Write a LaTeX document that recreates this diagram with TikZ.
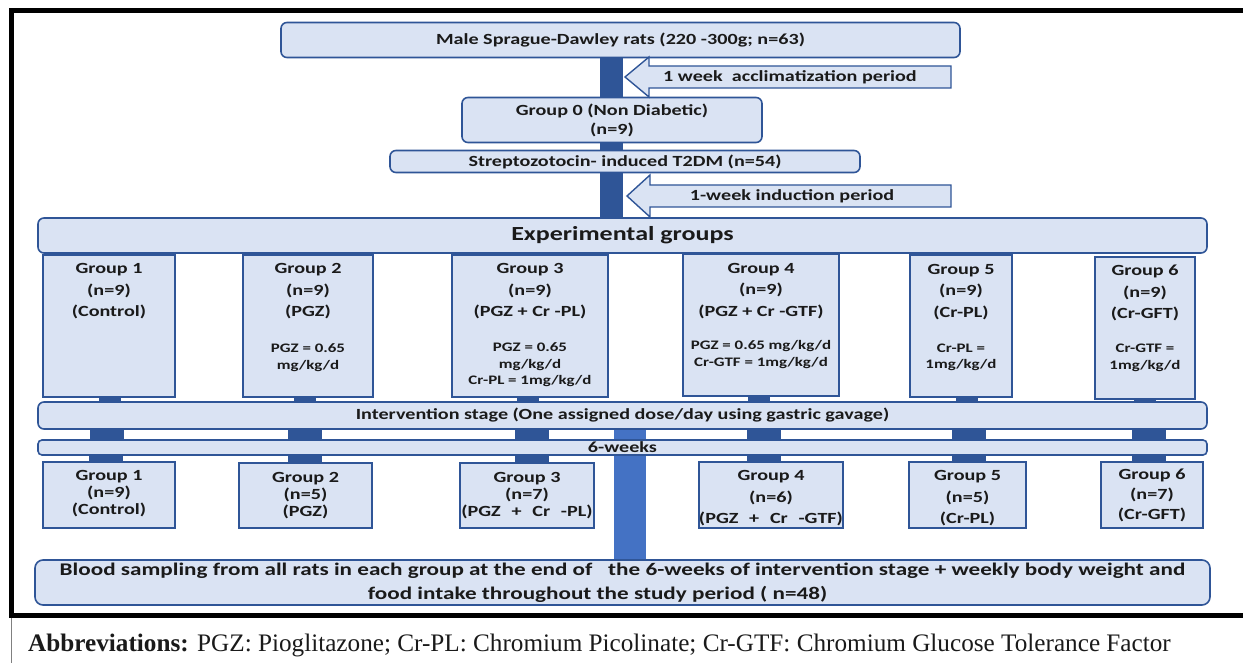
\documentclass[tikz,border=0pt]{standalone}
\usepackage{fontspec}
\setmainfont{Carlito}[FakeStretch=1.3]
\newfontfamily\abbrfont{Liberation Serif}
\usetikzlibrary{calc,backgrounds}
\definecolor{bd}{HTML}{2F5597}
\definecolor{fl}{HTML}{DAE3F3}
\definecolor{bb}{HTML}{4472C4}
\definecolor{tx}{HTML}{1A1A1A}
\newcommand{\wsp}{\ \hspace{0.4em}}
\begin{document}
\begin{tikzpicture}[x=1pt,y=-1pt,
  rbox/.style={draw=bd, fill=fl, line width=1.6pt, rounded corners=6pt, inner sep=0pt, align=center, text=tx, font=\bfseries\fontsize{15.5}{19}\selectfont},
  gbox/.style={draw=bd, fill=fl, line width=1.6pt, inner sep=0pt},
  htxt/.style={align=center, inner sep=0pt, text=tx, font=\bfseries\fontsize{15.5}{21.5}\selectfont},
  dtxt/.style={align=center, inner sep=0pt, text=tx, font=\bfseries\fontsize{13}{16.5}\selectfont},
  btxt/.style={align=center, inner sep=0pt, text=tx, font=\bfseries\fontsize{15.5}{17}\selectfont},
  atxt/.style={inner sep=0pt, text=tx, font=\bfseries\fontsize{15.5}{19}\selectfont},
  arr/.style={draw=bd, fill=fl, line width=1.4pt, line join=miter},
  bar/.style={fill=bd},
]
\useasboundingbox (0,0) rectangle (1243,663);

% frame
\draw[line width=5pt] (1243,10.5) -- (11,10.5) -- (11,615.5) -- (1243,615.5);
\draw[line width=1pt, gray] (11,618) -- (11,663);

% top part
\node[rbox, minimum width=679pt, minimum height=35pt] (top) at (620.5,40) {Male Sprague-Dawley rats (220 -300g; n=63)};
\node[rbox, minimum width=300pt, minimum height=45pt] (g0) at (612,120) {Group 0 (Non Diabetic)\\(n=9)};
\node[rbox, minimum width=470pt, minimum height=22pt] (stz) at (625,161.5) {Streptozotocin- induced T2DM (n=54)};
\node[rbox, minimum width=1169pt, minimum height=35pt, font=\bfseries\fontsize{20}{24}\selectfont] (exp) at (622.5,235.5) {Experimental groups};

\path[arr] (625,77) -- (649,57) -- (649,66) -- (951,66) -- (951,88) -- (649,88) -- (649,97) -- cycle;
\node[atxt] (a1) at (790,77) {1 week\ \ acclimatization period};
\path[arr] (627,196) -- (650,175) -- (650,185) -- (951,185) -- (951,207) -- (650,207) -- (650,217) -- cycle;
\node[atxt] (a2) at (792,196) {1-week induction period};

% top row of groups
\node[gbox, minimum width=132pt, minimum height=142pt] (t1) at (109,326) {};
\node[gbox, minimum width=130pt, minimum height=142pt] (t2) at (308,326) {};
\node[gbox, minimum width=156pt, minimum height=142pt] (t3) at (530,326) {};
\node[gbox, minimum width=156pt, minimum height=142pt] (t4) at (761,325) {};
\node[gbox, minimum width=102pt, minimum height=142pt] (t5) at (961,326) {};
\node[gbox, minimum width=100pt, minimum height=142pt] (t6) at (1145,328) {};

\node[htxt] (t1h) at (109,291.5) {Group 1\\(n=9)\\(Control)};
\node[htxt] (t2h) at (308,291.5) {Group 2\\(n=9)\\(PGZ)};
\node[htxt] (t3h) at (530,291.5) {Group 3\\(n=9)\\(PGZ + Cr -PL)};
\node[htxt] (t4h) at (761,291) {Group 4\\(n=9)\\(PGZ + Cr -GTF)};
\node[htxt] (t5h) at (961,292) {Group 5\\(n=9)\\(Cr-PL)};
\node[htxt] (t6h) at (1145,293) {Group 6\\(n=9)\\(Cr-GFT)};

\node[dtxt] (t2d) at (308,357.5) {PGZ = 0.65\\mg/kg/d};
\node[dtxt] (t3d) at (530,365) {PGZ = 0.65\\mg/kg/d\\Cr-PL = 1mg/kg/d};
\node[dtxt] (t4d) at (761,354.5) {PGZ = 0.65 mg/kg/d\\Cr-GTF = 1mg/kg/d};
\node[dtxt] (t5d) at (961,357.5) {Cr-PL =\\1mg/kg/d};
\node[dtxt] (t6d) at (1145,358) {Cr-GTF =\\1mg/kg/d};

% stages
\node[rbox, minimum width=1169pt, minimum height=27pt] (iv) at (622.5,415.5) {Intervention stage (One assigned dose/day using gastric gavage)};
\node[rbox, rounded corners=4pt, minimum width=1169pt, minimum height=15pt] (sw) at (622.5,447.5) {6-weeks};

% bottom row of groups
\node[gbox, minimum width=132pt, minimum height=66pt] (b1) at (109,495) {};
\node[gbox, minimum width=133pt, minimum height=65pt] (b2) at (305.5,495.5) {};
\node[gbox, minimum width=134pt, minimum height=65pt] (b3) at (527,495.5) {};
\node[gbox, minimum width=144pt, minimum height=66pt] (b4) at (771,495) {};
\node[gbox, minimum width=117pt, minimum height=66pt] (b5) at (967.5,495) {};
\node[gbox, minimum width=102pt, minimum height=66pt] (b6) at (1152,495) {};

\node[btxt] (b1t) at (109,493.5) {Group 1\\(n=9)\\(Control)};
\node[btxt] (b2t) at (305.5,496) {Group 2\\(n=5)\\(PGZ)};
\node[btxt] (b3t) at (527,496) {Group 3\\(n=7)\\(PGZ\wsp+\wsp Cr\wsp -PL)};
\node[btxt, font=\bfseries\fontsize{15.5}{21.5}\selectfont] (b4t) at (771,498.5) {Group 4\\(n=6)\\(PGZ\wsp+\wsp Cr\wsp -GTF)};
\node[btxt, font=\bfseries\fontsize{15.5}{21.5}\selectfont] (b5t) at (967.5,498.5) {Group 5\\(n=5)\\(Cr-PL)};
\node[btxt, font=\bfseries\fontsize{15.5}{20}\selectfont] (b6t) at (1152,495) {Group 6\\(n=7)\\(Cr-GFT)};

\node[rbox, rounded corners=8pt, minimum width=1175pt, minimum height=45pt, font=\bfseries\fontsize{17.8}{24}\selectfont] (blood) at (622.5,582.5) {Blood sampling from all rats in each group at the end of\ \ \ the 6-weeks of intervention stage + weekly body weight and\\food intake throughout the study period ( n=48)\hspace*{50pt}};

% connectors
\begin{scope}[on background layer]
  \fill[bar] (600,0 |- top.south) rectangle (623,0 |- exp.north);
  \fill[bb] (614,0 |- iv.south) rectangle (646,0 |- blood.north);
  \foreach \n/\a/\b/\c in {1/110/107/106, 2/305/305/305, 3/528/532/532, 4/759/764/764, 5/967/969/969, 6/1145/1149/1149} {
    \fill[bar] (\a-11,0 |- t\n.south) rectangle (\a+11,0 |- iv.north);
    \fill[bar] (\b-17,0 |- iv.south) rectangle (\b+17,0 |- sw.north);
    \fill[bar] (\c-17,0 |- sw.south) rectangle (\c+17,0 |- b\n.north);
  }
\end{scope}

\node[anchor=base west, inner sep=0pt, text=tx, font=\abbrfont\fontsize{25.2}{29}\selectfont] (abbr) at (28,651) {\textbf{Abbreviations:} PGZ: Pioglitazone; Cr-PL: Chromium Picolinate; Cr-GTF: Chromium Glucose Tolerance Factor};
\end{tikzpicture}
\end{document}
